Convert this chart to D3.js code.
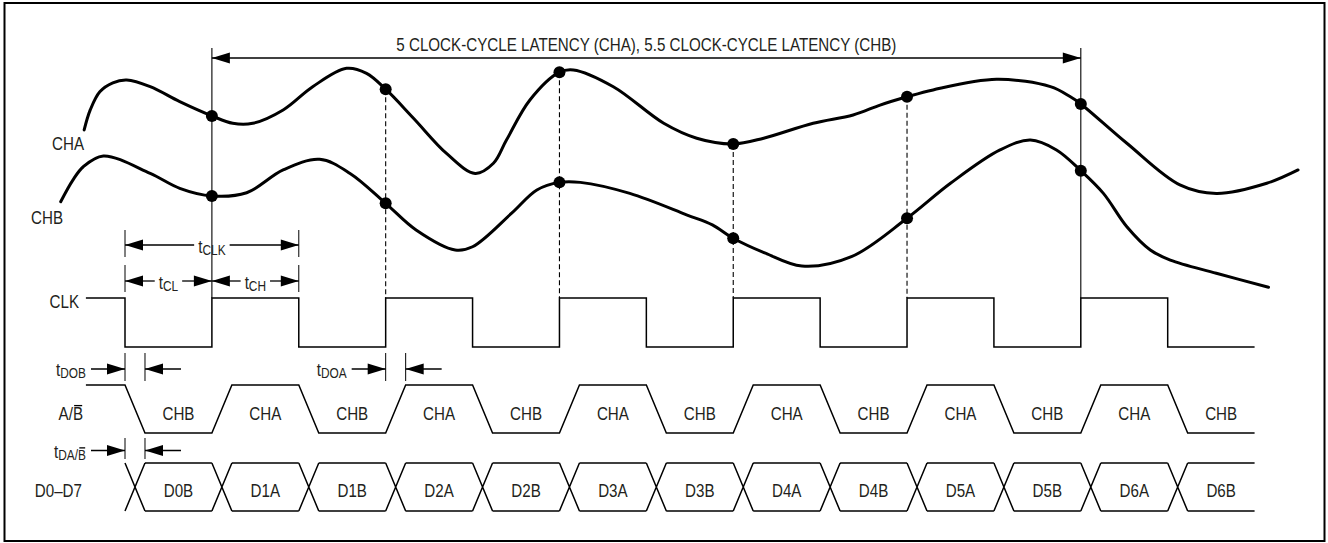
<!DOCTYPE html>
<html>
<head>
<meta charset="utf-8">
<title>Output timing: 5 / 5.5 clock-cycle latency</title>
<script src="https://cdn.jsdelivr.net/npm/d3@7"></script>
<style>
  body { margin: 0; background: #fff; }
  text {
    font-family: "Liberation Sans", Arial, Helvetica, sans-serif;
    font-size: 18.5px;
    fill: #231f20;
  }
  .sub { font-size: 14.5px; }
</style>
</head>
<body>
<script>
// time unit = half a clock cycle, t = 0 is the first falling CLK edge
const edges = d3.range(0, 13);            // even = falling, odd = rising
const sampleEdges = [1, 3, 5, 7, 9, 11];  // where CHA / CHB get sampled
const tStart = -0.45, tEnd = 13, tTrans = 0.23;

const abLabels = ["CHB", "CHA", "CHB", "CHA", "CHB", "CHA", "CHB",
                  "CHA", "CHB", "CHA", "CHB", "CHA", "CHB"];
const busLabels = ["D0B", "D1A", "D1B", "D2A", "D2B", "D3A", "D3B",
                   "D4A", "D4B", "D5A", "D5B", "D6A", "D6B"];

// analog inputs, [time, amplitude]
const chaWave = [
  [-0.47, 6.09], [-0.40, 6.96], [-0.29, 7.75], [-0.14, 8.14], [0.02, 8.26],
  [0.29, 7.97], [0.63, 7.32], [1, 6.70], [1.24, 6.38], [1.47, 6.38],
  [1.82, 6.96], [2.16, 7.97], [2.55, 8.77], [2.78, 8.55], [3, 7.86],
  [3.32, 6.60], [3.70, 5.07], [4.03, 4.20], [4.24, 4.64], [4.39, 5.65],
  [4.66, 7.39], [5, 8.60], [5.16, 8.70], [5.62, 7.97], [6.20, 6.38],
  [6.58, 5.73], [7, 5.48], [7.35, 5.73], [7.92, 6.38], [8.38, 6.74],
  [8.69, 7.17], [9, 7.53], [9.30, 7.83], [10.03, 8.29], [10.65, 7.97],
  [10.88, 7.53], [11, 7.22], [11.53, 5.51], [12.14, 3.70], [12.56, 3.33],
  [13.14, 3.77], [13.50, 4.35]
];
const chbWave = [
  [-0.74, 2.97], [-0.60, 3.91], [-0.48, 4.49], [-0.25, 4.96], [0.29, 4.20],
  [0.63, 3.55], [1, 3.22], [1.40, 3.36], [1.82, 4.35], [2.24, 4.81],
  [2.59, 4.20], [3, 2.90], [3.35, 1.74], [3.80, 0.87], [4.00, 1.01],
  [4.45, 2.47], [4.74, 3.48], [5, 3.81], [5.24, 3.81], [5.81, 3.33],
  [6.47, 2.39], [6.76, 1.96], [7, 1.38], [7.37, 0.73], [7.79, 0.17],
  [8.36, 0.58], [9, 2.25], [9.50, 3.77], [10.07, 5.22], [10.42, 5.65],
  [10.72, 5.22], [11, 4.32], [11.26, 3.33], [11.53, 1.88], [11.80, 0.87],
  [12.03, 0.43], [12.56, -0.14], [13.16, -0.75]
];

const svg = d3.select("body").append("svg")
  .attr("width", 1328)
  .attr("height", 543);

svg.append("rect")
  .attr("x", 4.5).attr("y", 3)
  .attr("width", 1320).attr("height", 538)
  .attr("fill", "none").attr("stroke", "#000").attr("stroke-width", 2);

const x = d3.scaleLinear().domain([0, 12]).range([125, 1167.7]);
const yWave = d3.scaleLinear().domain([0, 10]).range([270, 40]);
const yClk = d3.scaleLinear().domain([0, 1]).range([347, 298]);
const yAB = d3.scaleLinear().domain([0, 1]).range([433, 385]);
const yBus = d3.scaleLinear().domain([0, 1]).range([511, 463]);

const g = svg.append("g");
const SX = 0.82; // condensed look, like the original Helvetica Condensed

function head(tip, y, dir) {
  const L = 18, H = 5.5;
  g.append("path")
    .attr("d", `M${tip},${y}L${tip - dir * L},${y - H}L${tip - dir * L},${y + H}Z`)
    .attr("fill", "#000");
}
function hline(x1, x2, y, w, parent) {
  (parent || g).append("line").attr("x1", x1).attr("x2", x2).attr("y1", y).attr("y2", y)
    .attr("stroke", "#000").attr("stroke-width", w || 1.3);
}
function vline(xx, y1, y2, w, dash) {
  g.append("line").attr("x1", xx).attr("x2", xx).attr("y1", y1).attr("y2", y2)
    .attr("stroke", "#000").attr("stroke-width", w || 1)
    .attr("stroke-dasharray", dash || null);
}
// condensed text: returns the text selection, placed inside a scaled group
function label(xx, y, anchor, str) {
  const box = g.append("g").attr("transform", `translate(${xx},${y}) scale(${SX},1)`);
  const t = box.append("text").attr("text-anchor", anchor);
  if (str != null) t.text(str);
  return t;
}
function tLabel(xx, y, sub, anchor) {
  const t = label(xx, y, anchor);
  t.append("tspan").text("t");
  t.append("tspan").attr("class", "sub").attr("dy", 2).text(sub);
  return t;
}
function overlineLast(t, off) {
  const node = t.node();
  const e = node.getExtentOfChar(node.getNumberOfChars() - 1);
  hline(e.x + 1.5, e.x + e.width - 1, e.y + off, 1.3, d3.select(node.parentNode));
}
const widthOf = t => t.node().getBBox().width * SX;

// ---- latency marker
const xL1 = x(sampleEdges[0]), xL2 = x(sampleEdges[sampleEdges.length - 1]);
vline(xL1, 48, yClk(1), 1.1);
vline(xL2, 48, yClk(1), 1.1);
hline(xL1, xL2, 58, 1.3);
head(xL1, 58, -1);
head(xL2, 58, 1);
label((xL1 + xL2) / 2, 50.5, "middle",
  "5 CLOCK-CYCLE LATENCY (CHA), 5.5 CLOCK-CYCLE LATENCY (CHB)");

// ---- dashed sampling lines
sampleEdges.slice(1, -1).forEach(k => {
  const p = chaWave.find(d => d[0] === k);
  vline(x(k), yWave(p[1]), yClk(1), 1.1, "5,3");
});

// ---- analog waveforms
const wave = d3.line()
  .x(d => x(d[0])).y(d => yWave(d[1]))
  .curve(d3.curveCatmullRom.alpha(0.5));
[chaWave, chbWave].forEach(w => {
  g.append("path").attr("d", wave(w))
    .attr("fill", "none").attr("stroke", "#000").attr("stroke-width", 3)
    .attr("stroke-linejoin", "round").attr("stroke-linecap", "round");
  g.selectAll(null)
    .data(w.filter(d => sampleEdges.includes(d[0])))
    .enter().append("circle")
    .attr("cx", d => x(d[0])).attr("cy", d => yWave(d[1])).attr("r", 6)
    .attr("fill", "#000");
});
label(84, 150, "end", "CHA");
label(63, 224, "end", "CHB");

// ---- tCLK / tCL / tCH
function dim(t1, t2, y, sub) {
  const x1 = x(t1), x2 = x(t2), cx = (x1 + x2) / 2;
  const t = tLabel(cx, y + 8, sub, "middle");
  const w = widthOf(t);
  hline(x1, cx - w / 2 - 4, y);
  hline(cx + w / 2 + 4, x2, y);
  head(x1, y, -1);
  head(x2, y, 1);
}
vline(x(0), 230, 257); vline(x(2), 230, 257);
dim(0, 2, 245, "CLK");
vline(x(0), 265, 292); vline(x(2), 265, 292);
dim(0, 1, 281, "CL");
dim(1, 2, 281, "CH");

// ---- delay markers (arrows from outside)
function delay(k, y1, y2, sub, over) {
  const a = x(k), b = x(k + tTrans), y = (y1 + y2) / 2 + 2;
  vline(a, y1, y2); vline(b, y1, y2);
  hline(a - 34, a, y); head(a, y, 1);
  hline(b, b + 36, y); head(b, y, -1);
  const t = tLabel(a - 39, y + 7, sub, "end");
  if (over) overlineLast(t, 1.5);
}
delay(0, 353, 381, "DOB");
delay(3, 353, 381, "DOA");
delay(0, 438, 459, "DA/B", true);

// ---- CLK
const lvl = d3.line().x(d => x(d[0]));
const clkPts = [[tStart, 1]];
edges.forEach(k => {
  const before = k % 2 === 0 ? 1 : 0;
  clkPts.push([k, before], [k, 1 - before]);
});
clkPts.push([tEnd, 0]);
g.append("path").attr("d", lvl.y(d => yClk(d[1]))(clkPts))
  .attr("fill", "none").attr("stroke", "#000").attr("stroke-width", 1.5);
label(79, 308, "end", "CLK");

// ---- A/B
const abPts = [[tStart, 1]];
edges.forEach(k => {
  const before = k % 2 === 0 ? 1 : 0;
  abPts.push([k, before], [k + tTrans, 1 - before]);
});
abPts.push([tEnd, 0]);
g.append("path").attr("d", lvl.y(d => yAB(d[1]))(abPts))
  .attr("fill", "none").attr("stroke", "#000").attr("stroke-width", 1.5);
overlineLast(label(83, 420, "end", "A/B"), 2);

// ---- data bus
edges.forEach((k, i) => {
  const next = i < edges.length - 1 ? edges[i + 1] : tEnd;
  const a = x(k), b = x(k + tTrans), c = x(next);
  g.append("path")
    .attr("d", `M${a},${yBus(1)}L${b},${yBus(0)}M${a},${yBus(0)}L${b},${yBus(1)}` +
               `M${b},${yBus(1)}L${c},${yBus(1)}M${b},${yBus(0)}L${c},${yBus(0)}`)
    .attr("fill", "none").attr("stroke", "#000").attr("stroke-width", 1.5);
  label((b + c) / 2, 497, "middle", busLabels[i]);
  label((b + c) / 2, 420, "middle", abLabels[i]);
});
label(82, 497, "end", "D0–D7");
</script>
</body>
</html>
